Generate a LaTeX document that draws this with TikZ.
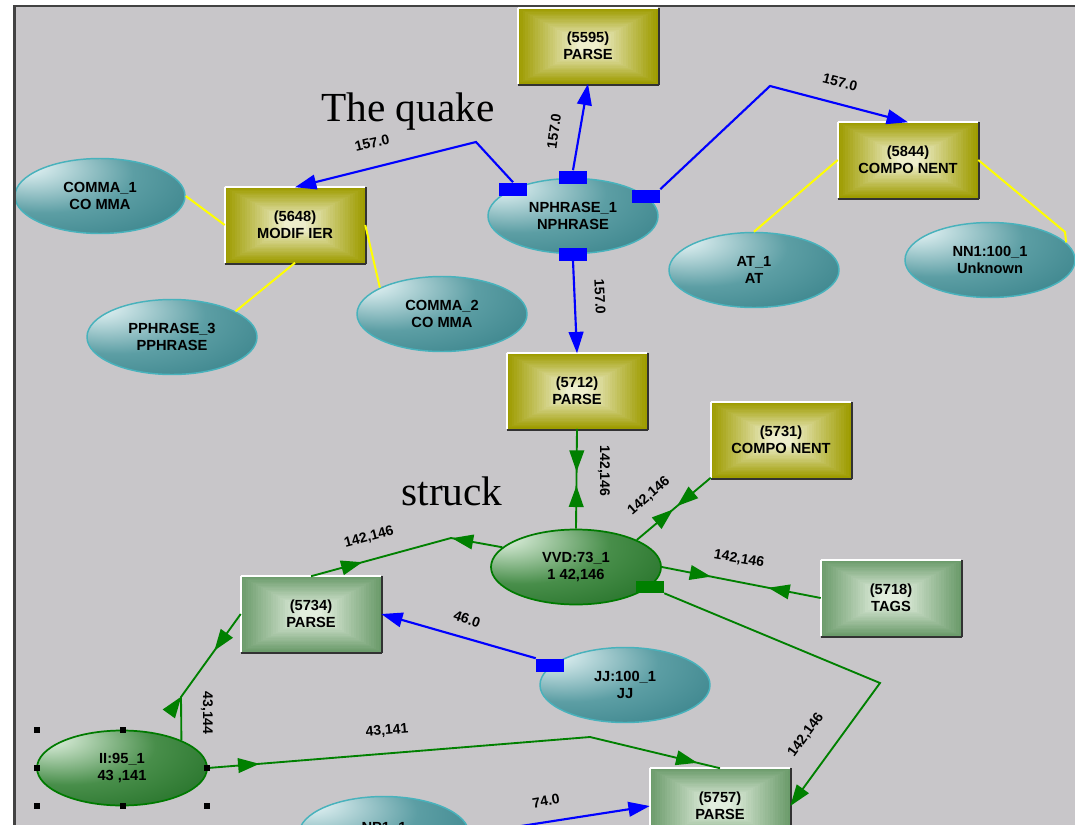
\documentclass[tikz,border=0pt]{standalone}
\usepackage{fontspec}
\setmainfont{Liberation Serif}
\setsansfont{Liberation Sans}
\usetikzlibrary{shapes.geometric,arrows.meta,decorations.markings}

% palette
\definecolor{panel}{RGB}{200,198,201}
\definecolor{frameline}{RGB}{66,66,66}
\definecolor{rimshadow}{RGB}{50,50,50}
\definecolor{olivedark}{RGB}{158,156,0}
\definecolor{olivelight}{RGB}{238,238,204}
\definecolor{sagedark}{RGB}{108,156,108}
\definecolor{sagelight}{RGB}{226,238,222}
\definecolor{tealhi}{RGB}{214,234,236}
\definecolor{tealmid}{RGB}{92,158,164}
\definecolor{tealbase}{RGB}{54,128,136}
\definecolor{tealdark}{RGB}{38,104,114}
\definecolor{tealrim}{RGB}{72,178,188}
\definecolor{leafhi}{RGB}{208,230,208}
\definecolor{leafmid}{RGB}{72,142,74}
\definecolor{leafbase}{RGB}{32,110,36}
\definecolor{leafdark}{RGB}{14,84,18}
\definecolor{leafrim}{RGB}{0,122,0}
\definecolor{linkblue}{RGB}{0,0,255}
\definecolor{linkgreen}{RGB}{0,128,0}
\definecolor{linkyellow}{RGB}{255,255,0}

% glossy fills for the oval nodes, highlight to the upper left
\pgfdeclareradialshading{tealball}{\pgfpoint{-24bp}{22bp}}{%
  color(0bp)=(tealhi); color(5bp)=(tealhi); color(26bp)=(tealmid);
  color(48bp)=(tealbase); color(80bp)=(tealdark)}
\pgfdeclareradialshading{leafball}{\pgfpoint{-24bp}{22bp}}{%
  color(0bp)=(leafhi); color(5bp)=(leafhi); color(26bp)=(leafmid);
  color(48bp)=(leafbase); color(80bp)=(leafdark)}

\tikzset{
  nodetext/.style={font=\sffamily\bfseries\fontsize{11}{12.75}\selectfont,
    align=center, text=black},
  boxshape/.style={rectangle, minimum width=105pt, minimum height=56.25pt,
    inner sep=0pt, nodetext},
  % stepped rectangular gradient, dark rim to light centre
  pyramid/.style 2 args={fill=#1, path picture={
      \foreach \k in {0,...,24}{
        \pgfmathtruncatemacro\mixp{\k*100/24}
        \fill[#2!\mixp!#1]
          ([xshift=\k*1.85pt,yshift=-\k*0.99pt]path picture bounding box.north west)
          rectangle
          ([xshift=-\k*1.85pt,yshift=\k*0.99pt]path picture bounding box.south east);
      }}},
  bevel/.style={append after command={
      (\tikzlastnode.south west) edge[draw=white,line width=1.2pt] (\tikzlastnode.north west)
      (\tikzlastnode.north west) edge[draw=white,line width=1.2pt] (\tikzlastnode.north east)
      ([xshift=0.6pt]\tikzlastnode.north east) edge[draw=rimshadow,line width=1.5pt]
        ([xshift=0.6pt,yshift=-0.6pt]\tikzlastnode.south east)
      ([xshift=0.6pt,yshift=-0.6pt]\tikzlastnode.south east) edge[draw=rimshadow,line width=1.5pt]
        ([yshift=-0.6pt]\tikzlastnode.south west)
  }},
  olivebox/.style={boxshape, pyramid={olivedark}{olivelight}, bevel},
  sagebox/.style={boxshape, pyramid={sagedark}{sagelight}, bevel},
  ovalshape/.style={ellipse, minimum width=127.5pt, minimum height=56.25pt,
    inner sep=0pt, nodetext},
  tealoval/.style={ovalshape, shade, shading=tealball, draw=tealrim, line width=1.1pt},
  leafoval/.style={ovalshape, shade, shading=leafball, draw=leafrim, line width=1.3pt},
  blueport/.style={rectangle, minimum width=21pt, minimum height=9.75pt,
    inner sep=0pt, fill=linkblue},
  greenport/.style={rectangle, minimum width=21pt, minimum height=9pt,
    inner sep=0pt, fill=linkgreen},
  bluelink/.style={draw=linkblue, line width=1.6pt},
  greenlink/.style={draw=linkgreen, line width=1.4pt},
  yellowlink/.style={draw=linkyellow, line width=1.5pt},
  fwd/.style={postaction={decorate,decoration={markings,
      mark=at position #1 with {\arrow{>}}}}},
  bwd/.style={postaction={decorate,decoration={markings,
      mark=at position #1 with {\arrowreversed{>}}}}},
  edgelabel/.style={font=\sffamily\bfseries\fontsize{10.5}{12}\selectfont,
    inner sep=0pt, text=black},
  bigword/.style={font=\fontsize{31}{36}\selectfont, inner sep=0pt, anchor=base},
  handle/.style={rectangle, fill=black, minimum size=4pt, inner sep=0pt},
}

\begin{document}
\begin{tikzpicture}[x=0.75pt, y=-0.75pt,
    >={Triangle[length=16pt,width=11pt]}]
\useasboundingbox (0,0) rectangle (1075,825);

% canvas
\fill[white] (0,0) rectangle (1075,825);
\fill[panel] (13,5) rectangle (1075,825);
\draw[frameline, line width=2.2pt] (14.5,825) -- (14.5,5.5);
\draw[frameline, line width=1.5pt] (13,6) -- (1075,6);

\begin{scope}
\clip (16,7) rectangle (1075,825);

% words of the sentence
\node[bigword] (quake) at (408,121) {The quake};
\node[bigword] (struck) at (452,505) {struck};

% constituent boxes
\node[olivebox] (c5595) at (588,46)  {(5595)\\PARSE};
\node[olivebox] (mod)   at (295,225) {(5648)\\MODIF IER};
\node[olivebox] (c5844) at (908,160) {(5844)\\COMPO NENT};
\node[olivebox] (c5712) at (577,391) {(5712)\\PARSE};
\node[olivebox] (c5731) at (781,440) {(5731)\\COMPO NENT};
\node[sagebox]  (c5734) at (311,614) {(5734)\\PARSE};
\node[sagebox]  (tags)  at (891,598) {(5718)\\TAGS};
\node[sagebox]  (c5757) at (720,806) {(5757)\\PARSE};

% word ovals
\node[tealoval] (comma1)  at (100,196) {COMMA\_1\\CO MMA};
\node[tealoval] (nphrase) at (573,216) {NPHRASE\_1\\NPHRASE};
\node[tealoval] (pphrase) at (172,337) {PPHRASE\_3\\PPHRASE};
\node[tealoval] (comma2)  at (442,314) {COMMA\_2\\CO MMA};
\node[tealoval] (atnode)  at (754,270) {AT\_1\\AT};
\node[tealoval] (nn1)     at (990,260) {NN1:100\_1\\Unknown};
\node[tealoval] (jj)      at (625,685) {JJ:100\_1\\JJ};
\node[tealoval] (np1)     at (384,834) {};
\node[nodetext, anchor=base] (np1text) at (384,832) {NP1\_1};
\node[leafoval] (vvd) at (576,567) {VVD:73\_1\\1 42,146};
\node[leafoval] (ii)  at (122,768) {II:95\_1\\43 ,141};

% ports
\node[blueport]  (pL) at (513,189) {};
\node[blueport]  (pT) at (573,177) {};
\node[blueport]  (pR) at (646,196) {};
\node[blueport]  (pB) at (573,254) {};
\node[blueport]  (pJ) at (550,665) {};
\node[greenport] (pG) at (650,587) {};

% bend points
\coordinate (bq1) at (476,142);
\coordinate (bq2) at (770,86);
\coordinate (bs1) at (451,538);
\coordinate (bs2) at (181,697);
\coordinate (bs3) at (590,737);
\coordinate (bs4) at (880,683);
\coordinate (by1) at (1065,232);

% blue links
\draw[bluelink,->] (pL.north) -- (bq1) -- (mod.north);
\draw[bluelink,->] (pT.north) -- (c5595.south);
\draw[bluelink,->] (pR.north east) -- (bq2) -- (c5844.north);
\draw[bluelink,->] (pB.south) -- (c5712.north);
\draw[bluelink,->] (pJ.north west) -- (c5734.east);
\draw[bluelink,->] (np1.east) -- (c5757.west);

% green links
\draw[greenlink, fwd=0.43, bwd=0.57] (c5712.south) -- (vvd.north);
\draw[greenlink, fwd=0.49, bwd=0.545] (vvd.24) -- (c5731.south west);
\draw[greenlink, fwd=0.31, bwd=0.67] (vvd.east) -- (tags.west);
\draw[greenlink, fwd=0.27, bwd=0.74] (c5734.north) -- (bs1) -- (vvd.165);
\draw[greenlink, fwd=0.31, bwd=0.70] (c5734.west) -- (bs2) -- (ii.25);
\draw[greenlink, fwd=0.10, fwd=0.955] (ii.east) -- (bs3) -- (c5757.north);
\draw[greenlink,->] (pG.south east) -- (bs4) -- (c5757.east);

% yellow links
\draw[yellowlink] (comma1.east) -- (mod.west);
\draw[yellowlink] (mod.south) -- (pphrase.22);
\draw[yellowlink] (mod.east) -- (comma2.157);
\draw[yellowlink] (c5844.west) -- (atnode.north);
\draw[yellowlink] (c5844.east) -- (by1) -- (nn1.13);

% link weights
\node[edgelabel, rotate=13]  (w1)  at (372,143) {157.0};
\node[edgelabel, rotate=82]  (w2)  at (554,131) {157.0};
\node[edgelabel, rotate=-14] (w3)  at (840,82)  {157.0};
\node[edgelabel, rotate=-87] (w4)  at (600,297) {157.0};
\node[edgelabel, rotate=-90] (w5)  at (604,471) {142,146};
\node[edgelabel, rotate=41]  (w6)  at (649,496) {142,146};
\node[edgelabel, rotate=-10] (w7)  at (739,559) {142,146};
\node[edgelabel, rotate=15]  (w8)  at (369,537) {142,146};
\node[edgelabel, rotate=-19] (w9)  at (467,619) {46.0};
\node[edgelabel, rotate=-90] (w10) at (207,713) {43,144};
\node[edgelabel, rotate=5]   (w11) at (387,731) {43,141};
\node[edgelabel, rotate=54]  (w12) at (806,735) {142,146};
\node[edgelabel, rotate=10]  (w13) at (546,801) {74.0};

% selection handles around II:95_1
\node[handle] (h1) at (37,730)  {};
\node[handle] (h2) at (123,730) {};
\node[handle] (h3) at (37,768)  {};
\node[handle] (h4) at (207,768) {};
\node[handle] (h5) at (37,806)  {};
\node[handle] (h6) at (123,806) {};
\node[handle] (h7) at (207,806) {};
\end{scope}
\end{tikzpicture}
\end{document}
